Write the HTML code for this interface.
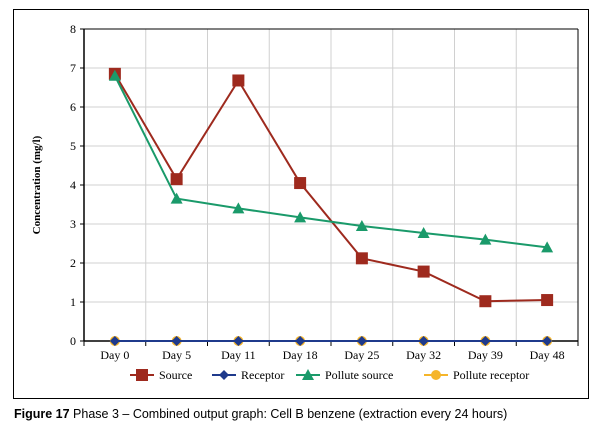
<!DOCTYPE html>
<html><head><meta charset="utf-8"><style>
body{margin:0;background:#fff;width:602px;height:432px;overflow:hidden}
svg{display:block}
</style></head><body>
<svg width="602" height="432" xmlns="http://www.w3.org/2000/svg">
<rect x="13.5" y="9.5" width="575" height="389" fill="#fff" stroke="#000" stroke-width="1"/>
<g id="grid"></g><g id="axes"></g><g id="series"></g>
<text x="0" y="0" transform="translate(40,185) rotate(-90)" text-anchor="middle" font-family="Liberation Serif, serif" font-weight="bold" font-size="11">Concentration (mg/l)</text>
<g id="legend"></g>
<text x="14" y="418" font-family="Liberation Sans, sans-serif" font-size="12.5"><tspan font-weight="bold">Figure 17</tspan> Phase 3 – Combined output graph: Cell B benzene (extraction every 24 hours)</text>
</svg>
<script>
const categories=["Day 0","Day 5","Day 11","Day 18","Day 25","Day 32","Day 39","Day 48"];
const sourceVals=[6.85,4.15,6.68,4.05,2.12,1.78,1.02,1.05];
const receptorVals=[0,0,0,0,0,0,0,0];
const polluteSourceVals=[6.8,3.65,3.4,3.17,2.95,2.77,2.6,2.4];
const polluteReceptorVals=[0,0,0,0,0,0,0,0];
const yTicks=[0,1,2,3,4,5,6,7,8];
const NS="http://www.w3.org/2000/svg";
const L=84,R=578,T=29,B=341,yMax=8;
const bw=(R-L)/categories.length;
const x=i=>L+bw*(i+0.5);
const y=v=>B-(v/yMax)*(B-T);
function mk(tag,attrs,parent){const e=document.createElementNS(NS,tag);for(const k in attrs)e.setAttribute(k,attrs[k]);parent.appendChild(e);return e;}
const grid=document.getElementById('grid'),axes=document.getElementById('axes'),ser=document.getElementById('series'),leg=document.getElementById('legend');
yTicks.forEach(t=>{
 if(t>0){const g=mk('line',{x1:L,x2:R,y1:y(t),y2:y(t),stroke:'#d0d0d0','stroke-width':1},grid);
 
 }
 const tk=mk('line',{x1:L-4,x2:L,y1:y(t),y2:y(t),stroke:'#000'},axes);
 
 
 const tx=mk('text',{x:L-8,y:y(t)+4,'text-anchor':'end','font-family':'Liberation Serif, serif','font-size':12},axes);
 tx.textContent=t;
 
 
});
for(let i=1;i<categories.length;i++){
 const g=mk('line',{x1:L+bw*i,x2:L+bw*i,y1:T,y2:B,stroke:'#d0d0d0'},grid);
 
 
}
for(let i=0;i<=categories.length;i++){
 const tk=mk('line',{x1:L+bw*i,x2:L+bw*i,y1:B,y2:B+5,stroke:'#000'},axes);
 
 
}
categories.forEach((c,i)=>{
 const tx=mk('text',{x:x(i),y:B+18,'text-anchor':'middle','font-family':'Liberation Serif, serif','font-size':12},axes);
 tx.textContent=c;
 
 
});
const plotTop=mk('line',{x1:L,x2:R,y1:T,y2:T,stroke:'#000'},axes);


const plotRight=mk('line',{x1:R,x2:R,y1:T,y2:B,stroke:'#000'},axes);


const ya=mk('line',{x1:L,x2:L,y1:T,y2:B,stroke:'#000','stroke-width':1.5},axes);


const xa=mk('line',{x1:L,x2:R,y1:B,y2:B,stroke:'#000','stroke-width':1.5},axes);


function marker(kind,cx,cy,color,parent){
 if(kind==='square')return mk('rect',{x:cx-6,y:cy-6,width:12,height:12,fill:color},parent);
 if(kind==='diamond')return mk('polygon',{points:`${cx},${cy-5} ${cx+5},${cy} ${cx},${cy+5} ${cx-5},${cy}`,fill:color},parent);
 if(kind==='triangle')return mk('polygon',{points:`${cx},${cy-6} ${cx+6},${cy+5} ${cx-6},${cy+5}`,fill:color},parent);
 return mk('circle',{cx:cx,cy:cy,r:5,fill:color},parent);
}
const seriesList=[
 {name:'Pollute receptor',vals:polluteReceptorVals,color:'#f5b52a',kind:'circle'},
 {name:'Receptor',vals:receptorVals,color:'#1f3a8c',kind:'diamond'},
 {name:'Source',vals:sourceVals,color:'#9e2a1e',kind:'square'},
 {name:'Pollute source',vals:polluteSourceVals,color:'#1a9a6a',kind:'triangle'}
];
seriesList.forEach(s=>{
 const g=mk('g',{},ser);
 
 
 const p=mk('polyline',{points:s.vals.map((v,i)=>x(i)+','+y(v)).join(' '),fill:'none',stroke:s.color,'stroke-width':2},g);
 
 
 s.vals.forEach((v,i)=>{const m=marker(s.kind,x(i),y(v),s.color,g);
 
 });
});
const legOrder=[seriesList[2],seriesList[1],seriesList[3],seriesList[0]];
const legX=[130,212,296,424];
legOrder.forEach((s,i)=>{
 const g=mk('g',{},leg);
 
 
 const lx=legX[i],ly=375;
 mk('line',{x1:lx,x2:lx+24,y1:ly,y2:ly,stroke:s.color,'stroke-width':2},g);
 marker(s.kind,lx+12,ly,s.color,g);
 const t=mk('text',{x:lx+29,y:ly+4,'font-family':'Liberation Serif, serif','font-size':12},g);
 t.textContent=s.name;
});
</script>
</body></html>
